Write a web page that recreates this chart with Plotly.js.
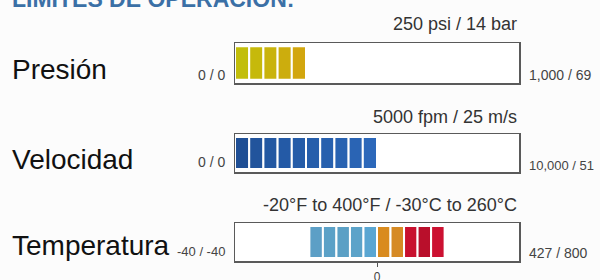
<!DOCTYPE html>
<html>
<head>
<meta charset="utf-8">
<script src="https://cdn.plot.ly/plotly-3.0.1.min.js"></script>
<style>html,body{margin:0;padding:0;background:#fcfcfc;}#chart{width:600px;height:280px;}</style>
</head>
<body>
<div id="chart"></div>
<script>
// ---- data ----
const rowLabels = ["Presión", "Velocidad", "Temperatura"];
const topLabels = ["250 psi / 14 bar", "5000 fpm / 25 m/s", "-20°F to 400°F / -30°C to 260°C"];
const minLabels = ["0 / 0", "0 / 0", "-40 / -40"];
const maxLabels = ["1,000 / 69", "10,000 / 51", "427 / 800"];

// pressure (psi) segments: scale 0..1000
const pressureRange = [0, 1000];
const pressureSegLo = [0, 50, 100, 150, 200];
const pressureSegHi = [50, 100, 150, 200, 250];
const pressureColors = ["#c2be0a", "#c6b90b", "#c9b30c", "#ccad0d", "#d2a60e"];

// velocity (fpm) segments: scale 0..10000
const velocityRange = [0, 10000];
const velocitySegLo = [0, 500, 1000, 1500, 2000, 2500, 3000, 3500, 4000, 4500];
const velocitySegHi = [500, 1000, 1500, 2000, 2500, 3000, 3500, 4000, 4500, 5000];
const velocityColors = ["#1f4f95", "#22549c", "#2358a2", "#245aa6", "#255ca8", "#265eab", "#2760ae", "#2862b1", "#2a64b4", "#2c68ba"];

// temperature segments (schematic scale, 0 at centre)
const tempRange = [-10.5, 10.5];
const tempSegLo = [-5, -4, -3, -2, -1, 0, 1, 2, 3, 4];
const tempSegHi = [-4, -3, -2, -1, 0, 1, 2, 3, 4, 5];
const tempColors = ["#5c9fc6", "#5ba1c7", "#5ba0c5", "#5ca3c9", "#5aa6d2", "#d98b1e", "#d68a24", "#c8102e", "#b90f2b", "#cc1131"];
const tempTickVals = [0];
const tempTickText = ["0"];

// ---- layout helpers ----
const H = 280, W = 600;
const py = p => 1 - p / H;
const px = p => p / W;
const FONT = "Liberation Sans, Arial, sans-serif";

function segTrace(lo, hi, colors, xa, ya) {
  return {
    type: "bar", orientation: "h",
    y: lo.map(() => 0),
    base: lo,
    x: hi.map((h, i) => h - lo[i]),
    width: 0.84,
    marker: {color: colors, line: {color: "#ffffff", width: 2}},
    xaxis: xa, yaxis: ya, hoverinfo: "skip", showlegend: false
  };
}

const data = [
  segTrace(pressureSegLo, pressureSegHi, pressureColors, "x", "y"),
  segTrace(velocitySegLo, velocitySegHi, velocityColors, "x2", "y2"),
  segTrace(tempSegLo, tempSegHi, tempColors, "x3", "y3")
];

const xdom = [px(235), px(519)];
function xax(range, anchor, extra) {
  return Object.assign({domain: xdom, range: range, anchor: anchor, showline: true, mirror: true,
    linecolor: "#5a5a5a", linewidth: 1.5, showgrid: false, zeroline: false,
    showticklabels: false, ticks: "", fixedrange: true}, extra || {});
}
function yax(top, bottom, anchor) {
  return {domain: [py(bottom), py(top)], range: [-0.5, 0.5], anchor: anchor, showline: true, mirror: true,
    linecolor: "#5a5a5a", linewidth: 1.5, showgrid: false, zeroline: false,
    showticklabels: false, ticks: "", fixedrange: true};
}

const rowY = [69, 159, 245];
const topY = [24, 116.5, 204.5];
const minY = [75, 162, 251];
const maxY = [75, 165, 253];
const maxSize = [14, 13, 14];

const annotations = [];
annotations.push({text: "<b>LIMITES DE OPERACION:</b>", xref: "paper", yref: "paper",
  x: px(10), y: py(-1), xanchor: "left", yanchor: "middle", showarrow: false,
  font: {family: FONT, size: 23, color: "#3b70a6"}});
for (let i = 0; i < 3; i++) {
  annotations.push({text: rowLabels[i], xref: "paper", yref: "paper", x: px(10), y: py(rowY[i]),
    xanchor: "left", yanchor: "middle", showarrow: false, font: {family: FONT, size: 28, color: "#111111"}});
  annotations.push({text: topLabels[i], xref: "paper", yref: "paper", x: px(519), y: py(topY[i]),
    xanchor: "right", yanchor: "middle", showarrow: false, font: {family: FONT, size: 18, color: "#333333"}});
  annotations.push({text: minLabels[i], xref: "paper", yref: "paper", x: px(227), y: py(minY[i]),
    xanchor: "right", yanchor: "middle", showarrow: false, font: {family: FONT, size: i === 2 ? 13 : 14, color: "#444444"}});
  annotations.push({text: maxLabels[i], xref: "paper", yref: "paper", x: px(527), y: py(maxY[i]),
    xanchor: "left", yanchor: "middle", showarrow: false, font: {family: FONT, size: maxSize[i], color: "#444444"}});
}

const layout = {
  width: W, height: H,
  margin: {l: 0, r: 0, t: 0, b: 0},
  paper_bgcolor: "#fcfcfc", plot_bgcolor: "#ffffff",
  barmode: "overlay",
  xaxis: xax(pressureRange, "y"),
  yaxis: yax(43, 83, "x"),
  xaxis2: xax(velocityRange, "y2"),
  yaxis2: yax(134, 172, "x2"),
  xaxis3: xax(tempRange, "y3", {tickvals: tempTickVals, ticktext: tempTickText, showticklabels: true,
    ticks: "outside", ticklen: 4, tickwidth: 1, tickcolor: "#555555",
    tickfont: {family: FONT, size: 12, color: "#444444"}}),
  yaxis3: yax(223, 261, "x3"),
  annotations: annotations,
  showlegend: false
};

Plotly.newPlot("chart", data, layout, {displayModeBar: false, staticPlot: true});
</script>
</body>
</html>
